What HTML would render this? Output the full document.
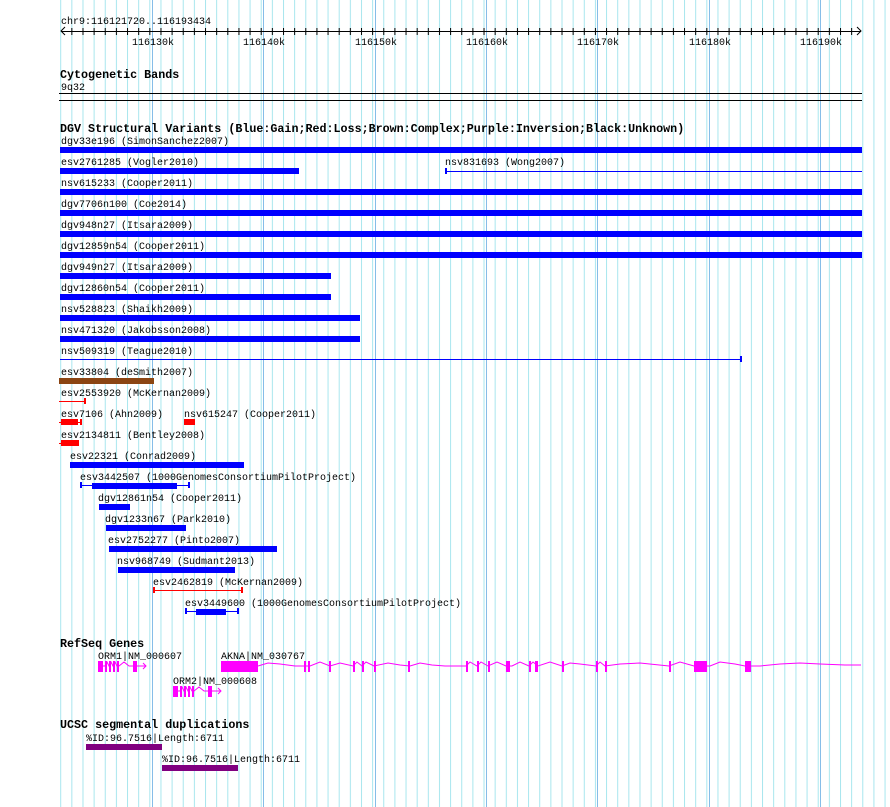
<!DOCTYPE html>
<html><head><meta charset="utf-8"><style>
html,body{margin:0;padding:0;background:#fff;width:890px;height:807px;overflow:hidden}
svg{display:block}
text{font-family:"Liberation Mono","DejaVu Sans Mono",monospace;font-size:10px;fill:#000}
.t{font-size:11.7px;font-weight:bold}
</style></head><body>
<svg width="890" height="807" xmlns="http://www.w3.org/2000/svg">
<defs>
<pattern id="g" x="4.5" y="0" width="11.14" height="807" patternUnits="userSpaceOnUse">
<rect x="0" y="0" width="1" height="807" fill="#a8e6ee"/></pattern>
<pattern id="tk" x="4.5" y="0" width="11.14" height="807" patternUnits="userSpaceOnUse">
<rect x="0" y="28" width="1" height="7" fill="#000"/></pattern>
</defs>
<rect x="59" y="0" width="831" height="807" fill="url(#g)"/>
<g fill="#86bde8">
<rect x="152" y="0" width="1" height="807"/><rect x="263" y="0" width="1" height="807"/>
<rect x="375" y="0" width="1" height="807"/><rect x="486" y="0" width="1" height="807"/>
<rect x="597" y="0" width="1" height="807"/><rect x="709" y="0" width="1" height="807"/>
<rect x="820" y="0" width="1" height="807"/></g>
<rect x="0" y="0" width="59" height="807" fill="#fff"/>

<!-- ruler -->
<text x="61" y="24">chr9:116121720..116193434</text>
<rect x="61" y="31" width="800" height="1" fill="#000"/>
<rect x="64" y="28" width="795" height="7" fill="url(#tk)"/>
<path d="M65 27 L61 31 L65 35 M857 27 L861 31 L857 35" stroke="#000" fill="none"/>
<g text-anchor="middle">
<text x="153" y="45">116130k</text><text x="264" y="45">116140k</text>
<text x="376" y="45">116150k</text><text x="487" y="45">116160k</text>
<text x="598" y="45">116170k</text><text x="710" y="45">116180k</text>
<text x="821" y="45">116190k</text></g>

<!-- cyto -->
<text class="t" x="60" y="78">Cytogenetic Bands</text>
<text x="61" y="90">9q32</text>
<rect x="59" y="93" width="803" height="1" fill="#000"/>
<rect x="59" y="100" width="803" height="1" fill="#000"/>

<!-- DGV -->
<text class="t" x="60" y="132">DGV Structural Variants (Blue:Gain;Red:Loss;Brown:Complex;Purple:Inversion;Black:Unknown)</text>
<g>
<text x="61" y="144">dgv33e196 (SimonSanchez2007)</text><rect x="60" y="147" width="802" height="6" fill="#0000ff"/>
<text x="61" y="165">esv2761285 (Vogler2010)</text><rect x="60" y="168" width="239" height="6" fill="#0000ff"/>
<text x="445" y="165">nsv831693 (Wong2007)</text><rect x="445" y="171" width="417" height="1" fill="#0000ff"/><rect x="445" y="168" width="2" height="6" fill="#0000ff"/>
<text x="61" y="186">nsv615233 (Cooper2011)</text><rect x="60" y="189" width="802" height="6" fill="#0000ff"/>
<text x="61" y="207">dgv7706n100 (Coe2014)</text><rect x="60" y="210" width="802" height="6" fill="#0000ff"/>
<text x="61" y="228">dgv948n27 (Itsara2009)</text><rect x="60" y="231" width="802" height="6" fill="#0000ff"/>
<text x="61" y="249">dgv12859n54 (Cooper2011)</text><rect x="60" y="252" width="802" height="6" fill="#0000ff"/>
<text x="61" y="270">dgv949n27 (Itsara2009)</text><rect x="60" y="273" width="271" height="6" fill="#0000ff"/>
<text x="61" y="291">dgv12860n54 (Cooper2011)</text><rect x="60" y="294" width="271" height="6" fill="#0000ff"/>
<text x="61" y="312">nsv528823 (Shaikh2009)</text><rect x="60" y="315" width="300" height="6" fill="#0000ff"/>
<text x="61" y="333">nsv471320 (Jakobsson2008)</text><rect x="60" y="336" width="300" height="6" fill="#0000ff"/>
<text x="61" y="354">nsv509319 (Teague2010)</text><rect x="60" y="359" width="681" height="1" fill="#0000ff"/><rect x="740" y="356" width="2" height="6" fill="#0000ff"/>
<text x="61" y="375">esv33804 (deSmith2007)</text><rect x="59" y="378" width="95" height="6" fill="#8b4513"/>
<text x="61" y="396">esv2553920 (McKernan2009)</text><rect x="59" y="401" width="26" height="1" fill="#ff0000"/><rect x="84" y="398" width="2" height="6" fill="#ff0000"/>
<text x="61" y="417">esv7106 (Ahn2009)</text><rect x="59" y="422" width="22" height="1" fill="#ff0000"/><rect x="61" y="419" width="17" height="6" fill="#ff0000"/><rect x="80" y="419" width="2" height="6" fill="#ff0000"/>
<text x="184" y="417">nsv615247 (Cooper2011)</text><rect x="184" y="419" width="11" height="6" fill="#ff0000"/>
<text x="61" y="438">esv2134811 (Bentley2008)</text><rect x="59" y="443" width="3" height="1" fill="#ff0000"/><rect x="61" y="440" width="18" height="6" fill="#ff0000"/>
<text x="70" y="459">esv22321 (Conrad2009)</text><rect x="70" y="462" width="174" height="6" fill="#0000ff"/>
<text x="80" y="480">esv3442507 (1000GenomesConsortiumPilotProject)</text><rect x="80" y="485" width="109" height="1" fill="#0000ff"/><rect x="80" y="482" width="2" height="6" fill="#0000ff"/><rect x="188" y="482" width="2" height="6" fill="#0000ff"/><rect x="92" y="483" width="85" height="6" fill="#0000ff"/>
<text x="98" y="501">dgv12861n54 (Cooper2011)</text><rect x="99" y="504" width="31" height="6" fill="#0000ff"/>
<text x="105" y="522">dgv1233n67 (Park2010)</text><rect x="106" y="525" width="80" height="6" fill="#0000ff"/>
<text x="108" y="543">esv2752277 (Pinto2007)</text><rect x="109" y="546" width="168" height="6" fill="#0000ff"/>
<text x="117" y="564">nsv968749 (Sudmant2013)</text><rect x="118" y="567" width="117" height="6" fill="#0000ff"/>
<text x="153" y="585">esv2462819 (McKernan2009)</text><rect x="154" y="590" width="88" height="1" fill="#ff0000"/><rect x="153" y="587" width="2" height="6" fill="#ff0000"/><rect x="241" y="587" width="2" height="6" fill="#ff0000"/>
<text x="185" y="606">esv3449600 (1000GenomesConsortiumPilotProject)</text><rect x="185" y="611" width="53" height="1" fill="#0000ff"/><rect x="185" y="608" width="2" height="6" fill="#0000ff"/><rect x="237" y="608" width="2" height="6" fill="#0000ff"/><rect x="196" y="609" width="30" height="6" fill="#0000ff"/>
</g>

<!-- RefSeq -->
<text class="t" x="60" y="647">RefSeq Genes</text>
<text x="98" y="659">ORM1|NM_000607</text>
<g fill="#ff00ff" stroke="none">
<rect x="98" y="661" width="5" height="11"/><rect x="105" y="661" width="2" height="11"/><rect x="109" y="661" width="2" height="11"/><rect x="113" y="661" width="2" height="11"/><rect x="117" y="661" width="2" height="11"/><rect x="133" y="661" width="4" height="11"/>
</g>
<polyline points="98,666 103,666 105,666 107,662 109,666 111,662 113,666 115,662 117,666 119,666 124,662 129,666 146,666" fill="none" stroke="#ff00ff"/>
<path d="M143 663 L146 666 L143 669" fill="none" stroke="#ff00ff"/>
<text x="221" y="659">AKNA|NM_030767</text>
<g fill="#ff00ff">
<rect x="221" y="661" width="37" height="11"/>
<rect x="304" y="661" width="2" height="11"/><rect x="308" y="661" width="2" height="11"/><rect x="329" y="661" width="2" height="11"/>
<rect x="353" y="661" width="2" height="11"/><rect x="362" y="661" width="2" height="11"/><rect x="374" y="661" width="2" height="11"/>
<rect x="408" y="661" width="2" height="11"/><rect x="466" y="661" width="2" height="11"/><rect x="477" y="661" width="2" height="11"/>
<rect x="488" y="661" width="2" height="11"/><rect x="506" y="661" width="4" height="11"/><rect x="529" y="661" width="2" height="11"/>
<rect x="535" y="661" width="3" height="11"/><rect x="562" y="661" width="2" height="11"/><rect x="596" y="661" width="2" height="11"/>
<rect x="605" y="661" width="2" height="11"/><rect x="669" y="661" width="2" height="11"/><rect x="694" y="661" width="13" height="11"/>
<rect x="745" y="661" width="6" height="11"/>
</g>
<polyline points="258,666 268,663 280,664 295,666 304,666 310,666 320,662 330,666 340,663 353,666 357,662 362,666 366,662 374,666 388,663 400,665 410,666 420,663 432,665 445,666 466,666 470,662 477,666 481,662 488,666 497,662 506,666 512,666 520,662 529,666 533,662 538,666 550,662 562,666 570,663 580,664 596,666 600,662 605,666 620,664 640,663 669,666 680,662 694,666 710,666 720,662 735,664 745,666 760,666 780,664 800,663 820,664 845,665 861,665" fill="none" stroke="#ff00ff"/>
<text x="173" y="684">ORM2|NM_000608</text>
<g fill="#ff00ff">
<rect x="173" y="686" width="5" height="11"/><rect x="180" y="686" width="2" height="11"/><rect x="184" y="686" width="2" height="11"/><rect x="188" y="686" width="2" height="11"/><rect x="192" y="686" width="2" height="11"/><rect x="208" y="686" width="4" height="11"/>
</g>
<polyline points="173,691 178,691 180,691 182,687 184,691 186,687 188,691 190,687 192,691 194,691 199,687 204,691 221,691" fill="none" stroke="#ff00ff"/>
<path d="M218 688 L221 691 L218 694" fill="none" stroke="#ff00ff"/>

<!-- UCSC -->
<text class="t" x="60" y="728">UCSC segmental duplications</text>
<text x="86" y="741">%ID:96.7516|Length:6711</text>
<rect x="86" y="744" width="76" height="6" fill="#800080"/>
<text x="162" y="762">%ID:96.7516|Length:6711</text>
<rect x="162" y="765" width="76" height="6" fill="#800080"/>
</svg>
</body></html>
